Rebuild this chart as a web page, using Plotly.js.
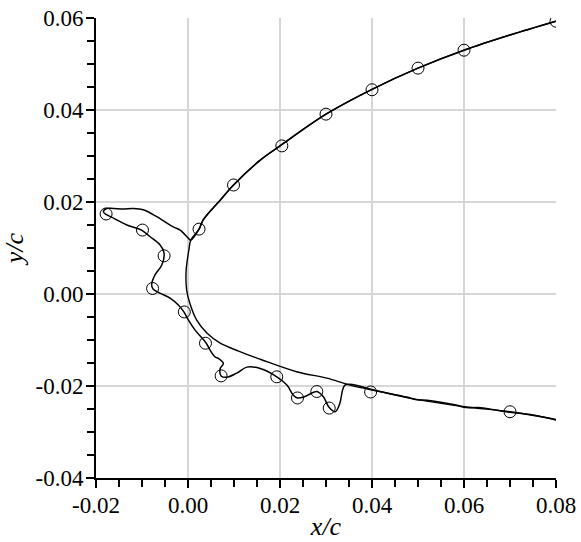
<!DOCTYPE html>
<html>
<head>
<meta charset="utf-8">
<script src="https://cdn.plot.ly/plotly-3.0.1.min.js"></script>
<style>
html,body{margin:0;padding:0;background:#fff;}
#chart{width:581px;height:542px;}
</style>
</head>
<body>
<div id="chart"></div>
<script>
// Clean airfoil contour (upper TE -> leading edge -> lower TE)
var cleanX = [0.080, 0.070, 0.060, 0.050, 0.040, 0.030, 0.020, 0.0157, 0.0099, 0.0070, 0.0033, 0.0024, 0.0006, 0.0002, -0.0004, -0.0003, 0.0004, 0.0019, 0.0041, 0.0070, 0.0110, 0.0160, 0.0236, 0.0302, 0.0352, 0.0417, 0.0497, 0.0602, 0.0700, 0.0802];
var cleanY = [0.0593, 0.0563, 0.0530, 0.0491, 0.0445, 0.0391, 0.0322, 0.0291, 0.0237, 0.0204, 0.0161, 0.0141, 0.0117, 0.0096, 0.0052, 0.0009, -0.0020, -0.0057, -0.0085, -0.0107, -0.0124, -0.0143, -0.0169, -0.0183, -0.0198, -0.0212, -0.0229, -0.0245, -0.0256, -0.0273];

// Ice shape contour
var iceX = [0.080, 0.070, 0.060, 0.050, 0.040, 0.030, 0.020, 0.0157, 0.0099, 0.0070, 0.0033, 0.0024, 0.0006, 0.0001, -0.0017, -0.0032, -0.0068, -0.0097, -0.0119, -0.0141, -0.0162, -0.0177, -0.0184, -0.0178, -0.0162, -0.0133, -0.0101, -0.0083, -0.0061, -0.0052, -0.0057, -0.0072, -0.0079, -0.0076, -0.0061, -0.0039, -0.0021, -0.0009, 0.0001, 0.0015, 0.0039, 0.0048, 0.0059, 0.0066, 0.0077, 0.0070, 0.0072, 0.0084, 0.0106, 0.0128, 0.0157, 0.0193, 0.0215, 0.0229, 0.0238, 0.0254, 0.0280, 0.0294, 0.0307, 0.0320, 0.0330, 0.0336, 0.0341, 0.0352, 0.0417, 0.0475, 0.0497, 0.0520, 0.0580, 0.0605, 0.0630, 0.0700, 0.0750, 0.0800];
var iceY = [0.0593, 0.0563, 0.0530, 0.0491, 0.0445, 0.0391, 0.0322, 0.0291, 0.0237, 0.0204, 0.0161, 0.0141, 0.0117, 0.0121, 0.0139, 0.0146, 0.0168, 0.0183, 0.0186, 0.0185, 0.0186, 0.0186, 0.0179, 0.0173, 0.0165, 0.0150, 0.0139, 0.0125, 0.0107, 0.0089, 0.0063, 0.0041, 0.0020, 0.0011, 0.0002, -0.0009, -0.0024, -0.0039, -0.0057, -0.0078, -0.0106, -0.0122, -0.0137, -0.0140, -0.0151, -0.0162, -0.0178, -0.0181, -0.0172, -0.0159, -0.0162, -0.0180, -0.0198, -0.0220, -0.0226, -0.0223, -0.0212, -0.0223, -0.0247, -0.0256, -0.0238, -0.0209, -0.0198, -0.0196, -0.0212, -0.0224, -0.0230, -0.0231, -0.0241, -0.0247, -0.0247, -0.0257, -0.0263, -0.0274];

// Experimental points (circles)
var expX = [0.080, 0.060, 0.050, 0.040, 0.030, 0.0204, 0.0099, 0.0024, -0.0178, -0.0099, -0.0052, -0.0077, -0.0008, 0.0038, 0.0072, 0.0193, 0.0238, 0.0280, 0.0307, 0.0397, 0.0700];
var expY = [0.0593, 0.0530, 0.0491, 0.0444, 0.0391, 0.0322, 0.0237, 0.0141, 0.0174, 0.0139, 0.0083, 0.0012, -0.0039, -0.0107, -0.0178, -0.0180, -0.0226, -0.0212, -0.0248, -0.0213, -0.0256];

var xTickVals = [-0.02, 0.00, 0.02, 0.04, 0.06, 0.08];
var xTickText = ["-0.02", "0.00", "0.02", "0.04", "0.06", "0.08"];
var yTickVals = [-0.04, -0.02, 0.00, 0.02, 0.04, 0.06];
var yTickText = ["-0.04", "-0.02", "0.00", "0.02", "0.04", "0.06"];

var SERIF = 'Liberation Serif';

var traces = [
  {x: cleanX, y: cleanY, mode: 'lines', line: {color: '#000', width: 1.4, shape: 'spline', smoothing: 1}, hoverinfo: 'skip'},
  {x: iceX, y: iceY, mode: 'lines', line: {color: '#000', width: 1.5, shape: 'spline', smoothing: 1}, hoverinfo: 'skip'},
  {x: expX, y: expY, mode: 'markers', marker: {symbol: 'circle-open', size: 12, color: '#000', line: {width: 1, color: '#000'}}}
];

function axisCommon() {
  return {
    showgrid: true, gridcolor: '#d6d6d6', gridwidth: 1.5,
    zeroline: false, showline: true, linecolor: '#000', linewidth: 2, mirror: false,
    ticks: 'outside', ticklen: 8, tickwidth: 2, tickcolor: '#000',
    tickfont: {family: SERIF, size: 23, color: '#000'},
    minor: {dtick: 0.005, ticks: 'outside', ticklen: 7, tickwidth: 2, tickcolor: '#000', showgrid: false}
  };
}

var layout = {
  width: 581, height: 542,
  margin: {l: 96, r: 25, t: 18, b: 64},
  paper_bgcolor: '#fff', plot_bgcolor: '#fff',
  font: {family: SERIF, color: '#000'},
  showlegend: false,
  xaxis: Object.assign(axisCommon(), {
    range: [-0.02, 0.08], tickmode: 'array', tickvals: xTickVals, ticktext: xTickText,
    ticklabelstandoff: -3,
    title: {text: '<i>x/c</i>', font: {family: SERIF, size: 26, color: '#000'}, standoff: 0}
  }),
  yaxis: Object.assign(axisCommon(), {
    range: [-0.04, 0.06], tickmode: 'array', tickvals: yTickVals, ticktext: yTickText,
    ticklabelstandoff: -2,
    title: {text: '<i>y/c</i>', font: {family: SERIF, size: 26, color: '#000'}, standoff: 6}
  })
};

Plotly.newPlot('chart', traces, layout, {displayModeBar: false, staticPlot: true});
</script>
</body>
</html>
